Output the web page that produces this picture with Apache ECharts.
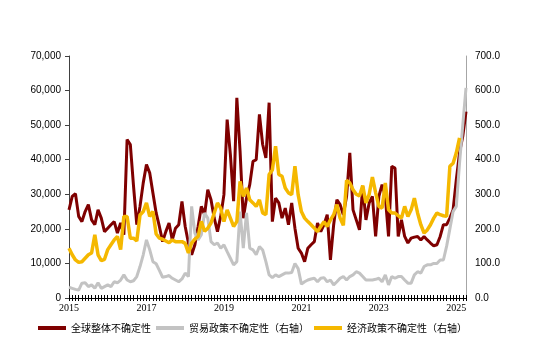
<!DOCTYPE html>
<html>
<head>
<meta charset="utf-8">
<script src="https://cdn.jsdelivr.net/npm/echarts@6/dist/echarts.min.js"></script>
<style>
  html, body { margin: 0; padding: 0; background: #fff; }
  #chart { width: 550px; height: 351px; }
</style>
</head>
<body>
<div id="chart"></div>
<script>
// monthly, 2015-01 .. 2025-04
var months = [];
for (var y = 2015; y <= 2025; y++) {
    for (var m = 1; m <= 12; m++) {
        if (y == 2025 && m > 4) break;
        months.push(y + '-' + (m < 10 ? '0' + m : m));
    }
}

var seriesNames = ['全球整体不确定性', '贸易政策不确定性（右轴）', '经济政策不确定性（右轴）'];

// left axis
var globalUnc = [
    25500, 29400, 30200, 23600, 22100, 25000, 27000, 22600, 21200, 25500, 23100, 19200,
    20200, 21200, 22100, 18800, 21700, 18300, 45800, 44400, 32300, 21200, 26500, 33300,
    38600, 36200, 30400, 24600, 20700, 16300, 19200, 21700, 16800, 20200, 21200, 27900,
    20700, 15900, 12500, 15400, 20700, 26500, 24100, 31300, 28400, 23100, 19200, 23600,
    29900, 51600, 41500, 28000, 57900, 42500, 23100, 28900, 32800, 39500, 40000, 53100,
    44400, 40500, 56500, 22100, 28900, 27500, 23100, 26000, 21200, 27500, 20200, 14400,
    13000, 10500, 14400, 15400, 16300, 21700, 19200, 21200, 24100, 11000, 21200, 28400,
    27000, 24100, 29400, 42000, 25500, 22600, 19700, 32300, 22600, 27500, 29400, 17800,
    29400, 32800, 29400, 17800, 38100, 37600, 17800, 22600, 17800, 15900, 17300, 17600,
    17800, 16800, 17800, 16800, 15900, 15100, 15400, 17800, 21200, 21200, 23100, 25500,
    34200, 42000, 46800, 53900
];

// right axis
var tradeUnc = [
    31, 28, 25, 23, 43, 44, 33, 38, 28, 44, 28, 33,
    38, 33, 47, 44, 52, 67, 52, 47, 50, 62, 91, 125,
    168, 140, 105, 99, 80, 60, 62, 65, 57, 52, 47, 55,
    72, 62, 265, 188, 168, 183, 246, 231, 163, 154, 159, 144,
    154, 134, 115, 96, 105, 250, 144, 246, 144, 139, 125, 149,
    139, 105, 67, 59, 67, 62, 67, 72, 72, 74, 100, 85,
    40, 47, 52, 55, 57, 47, 57, 59, 47, 52, 38, 47,
    57, 62, 52, 62, 67, 76, 72, 62, 52, 52, 52, 54,
    57, 47, 67, 38, 62, 57, 62, 62, 52, 43, 43, 67,
    76, 72, 91, 96, 96, 100, 100, 110, 110, 150, 200, 250,
    265, 390, 500, 608
];

var econUnc = [
    144, 125, 110, 103, 105, 115, 125, 130, 183, 125, 108, 112,
    140, 154, 168, 178, 140, 236, 236, 173, 173, 165, 240, 250,
    275, 236, 250, 185, 173, 170, 165, 160, 168, 163, 163, 163,
    158, 130, 159, 170, 178, 222, 193, 202, 217, 246, 275, 260,
    221, 255, 231, 207, 221, 337, 294, 318, 284, 275, 265, 284,
    246, 241, 357, 370, 439, 357, 352, 318, 304, 299, 381, 299,
    250, 231, 221, 212, 202, 192, 207, 221, 207, 226, 241, 270,
    231, 210, 340, 333, 313, 300, 295, 325, 275, 300, 350, 305,
    265, 260, 333, 255, 246, 246, 238, 231, 265, 236, 255, 289,
    246, 212, 188, 197, 212, 231, 246, 241, 238, 236, 381, 390,
    420, 463
];

var colors = ['#7f0000', '#c3c3c3', '#f5b800'];

var chart = echarts.init(document.getElementById('chart'));

var option = {
    animation: false,
    color: colors,
    grid: {
        left: 69,
        right: 84,
        top: 56,
        bottom: 53
    },
    legend: {
        data: seriesNames,
        left: 33,
        top: 318,
        icon: 'rect',
        itemWidth: 28,
        itemHeight: 4,
        itemGap: 5,
        textStyle: {
            fontFamily: 'Noto Sans CJK SC',
            fontSize: 10,
            color: '#000'
        }
    },
    xAxis: [{
        type: 'category',
        data: months,
        boundaryGap: false,
        axisLine: { lineStyle: { color: '#000', width: 1 } },
        axisTick: { interval: 0, length: 3, lineStyle: { color: '#000' } },
        axisLabel: {
            interval: function (idx) { return idx % 24 == 0; },
            formatter: function (v) { return v.slice(0, 4); },
            fontFamily: 'Liberation Serif',
            fontSize: 10,
            color: '#000',
            margin: 5
        },
        splitLine: { show: false }
    }, {
        type: 'category',
        data: months,
        boundaryGap: false,
        position: 'bottom',
        axisLine: { show: false },
        axisTick: { interval: 0, inside: true, length: 3, lineStyle: { color: '#000' } },
        axisLabel: { show: false },
        splitLine: { show: false }
    }],
    yAxis: [{
        type: 'value',
        min: 0,
        max: 70000,
        interval: 10000,
        axisLine: { show: true, lineStyle: { color: '#404040' } },
        axisTick: { show: true, length: 4, lineStyle: { color: '#404040' } },
        axisLabel: {
            formatter: function (v) { return v.toLocaleString('en-US'); },
            fontFamily: 'Liberation Sans',
            fontSize: 10,
            color: '#000',
            margin: 8
        },
        splitLine: { show: false }
    }, {
        type: 'value',
        min: 0,
        max: 700,
        interval: 100,
        position: 'right',
        axisLine: { show: true, lineStyle: { color: '#a6a6a6' } },
        axisTick: { show: false },
        axisLabel: {
            formatter: function (v) { return v.toFixed(1); },
            fontFamily: 'Liberation Sans',
            fontSize: 10,
            color: '#000',
            margin: 9
        },
        splitLine: { show: false }
    }],
    series: [{
        name: seriesNames[0],
        type: 'line',
        yAxisIndex: 0,
        showSymbol: false,
        lineStyle: { width: 3 },
        data: globalUnc
    }, {
        name: seriesNames[1],
        type: 'line',
        yAxisIndex: 1,
        showSymbol: false,
        lineStyle: { width: 3 },
        data: tradeUnc
    }, {
        name: seriesNames[2],
        type: 'line',
        yAxisIndex: 1,
        showSymbol: false,
        lineStyle: { width: 3.5 },
        data: econUnc
    }]
};

chart.setOption(option);
</script>
</body>
</html>
